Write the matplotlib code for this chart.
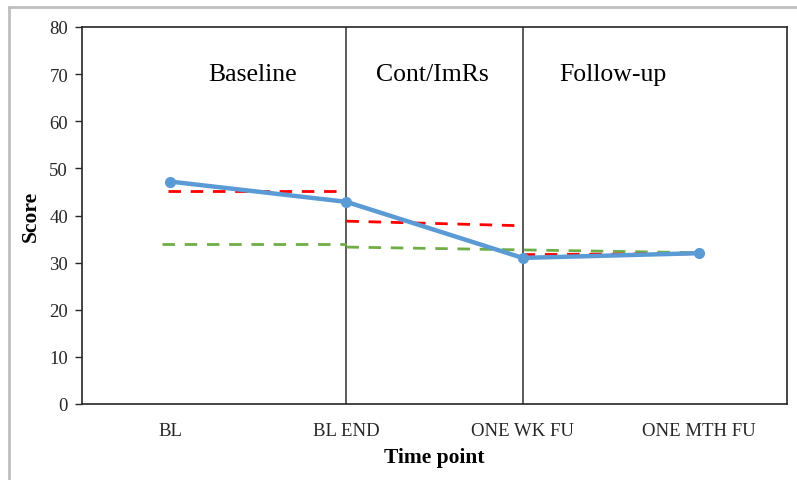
import matplotlib.pyplot as plt
from matplotlib.lines import Line2D

# data
timepoints = ["BL", "BL END", "ONE WK FU", "ONE MTH FU"]
scores = [47.2, 42.9, 31.0, 32.0]

# phase trend lines (red): start/end x index and values
red_x = [(0, 1), (1, 2), (2, 3)]
red_y = [(45.3, 45.3), (38.8, 37.85), (31.7, 31.9)]
red_x_off = [(-0.01, -0.01), (0.0, -0.03), (0.0, 0.0)]

# overall trend lines (green)
green_x = [(-0.045, 1), (1, 3)]
green_y = [(34.0, 34.0), (33.3, 32.1)]

phases = ["Baseline", "Cont/ImRs", "Follow-up"]
phase_x = [0.47, 1.49, 2.51]

plt.rcParams['font.family'] = ['Liberation Serif', 'DejaVu Serif']

fig = plt.figure(figsize=(7.97, 4.81), dpi=100)
ax = fig.add_axes([82 / 797, 1 - 405 / 481, (787 - 82) / 797, (405 - 28) / 481])

for (x0, x1), (y0, y1), (o0, o1) in zip(red_x, red_y, red_x_off):
    ax.plot([x0 + o0, x1 + o1], [y0, y1], color='#ff0000', lw=2, ls=(0, (4.5, 3.5)), zorder=3)
for (x0, x1), (y0, y1) in zip(green_x, green_y):
    ax.plot([x0, x1], [y0, y1], color='#70ad47', lw=2, ls=(0, (4.5, 3.5)), zorder=2)

ax.plot(range(len(timepoints)), scores, color='#5b9bd5', lw=3.2, marker='o', ms=7, zorder=4)

for xv in [1, 2]:
    ax.axvline(xv, color='#404040', lw=1.2, zorder=1)

for name, xp in zip(phases, phase_x):
    ax.text(xp, 70, name, ha='center', va='center', fontsize=18.5)

ax.set_xlim(-0.5, 3.5)
ax.set_ylim(0, 80)
ax.set_yticks(range(0, 81, 10))
ax.set_xticks(range(len(timepoints)))
ax.set_xticklabels(timepoints)
ax.tick_params(axis='x', length=0, pad=13, labelsize=13.5, colors='#262626')
ax.tick_params(axis='y', length=5, width=1, pad=5, labelsize=13.5, colors='#262626')
for s in ax.spines.values():
    s.set_color('#262626')
    s.set_linewidth(1.2)

ax.set_xlabel('Time point', fontsize=15.5, fontweight='bold', labelpad=6)
ax.set_ylabel('Score', fontsize=15.5, fontweight='bold', labelpad=6)

# light gray frame edges (top and left)
fig.add_artist(Line2D([9 / 797, 1], [1 - 8 / 481, 1 - 8 / 481], color='#bfbfbf', lw=2, transform=fig.transFigure))
fig.add_artist(Line2D([9 / 797, 9 / 797], [0, 1 - 8 / 481], color='#bfbfbf', lw=2, transform=fig.transFigure))

fig.savefig('out.png', dpi=100)
